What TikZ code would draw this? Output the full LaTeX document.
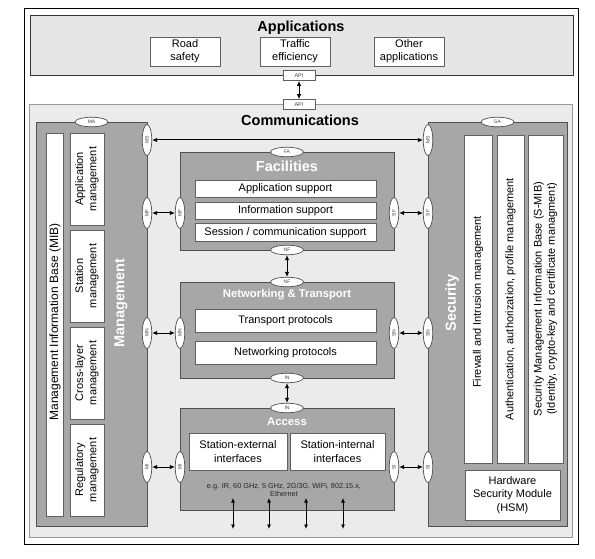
\documentclass[tikz,border=0pt]{standalone}
\usepackage{fontspec}
\setmainfont{Liberation Sans}
\usetikzlibrary{shapes.geometric,arrows.meta}
\definecolor{appfill}{HTML}{E6E6E6}
\definecolor{comfill}{HTML}{EBEBEB}
\definecolor{layfill}{HTML}{A7A7A7}
\definecolor{laystroke}{HTML}{505050}
\definecolor{boxstroke}{HTML}{606060}
\definecolor{elltext}{HTML}{444444}
\begin{document}
\begin{tikzpicture}[x=1pt,y=-1pt,
  area/.style={rectangle,inner sep=0pt},
  layer/.style={area,draw=laystroke,fill=layfill,line width=0.9pt},
  wbox/.style={area,draw=boxstroke,fill=white,line width=0.8pt,align=center,
    font=\fontsize{11}{13.3}\selectfont},
  bigtitle/.style={font=\fontsize{14.5}{16}\selectfont\bfseries,inner sep=0pt},
  wtitle/.style={font=\fontsize{14.5}{16}\selectfont\bfseries,text=white,inner sep=0pt},
  stitle/.style={font=\fontsize{11.3}{13}\selectfont\bfseries,text=white,inner sep=0pt},
  ell/.style={ellipse,draw=laystroke,fill=white,line width=0.7pt,minimum width=33pt,
    minimum height=9.5pt,inner sep=0pt,font=\fontsize{5}{5}\selectfont,text=elltext},
  vell/.style={ell,rotate=90,minimum width=31pt},
  apibox/.style={area,draw=boxstroke,fill=white,line width=0.7pt,minimum width=32pt,
    minimum height=10pt,font=\fontsize{5.5}{6}\selectfont,text=elltext},
  dbl/.style={{Latex[length=5pt,width=4.5pt]}-{Latex[length=5pt,width=4.5pt]},line width=1pt,black},
  sdbl/.style={{Latex[length=4.5pt,width=4pt]}-{Latex[length=4.5pt,width=4pt]},line width=0.8pt,black}
]
\useasboundingbox (0,0) rectangle (595,559);
% outer frame
\node[area,draw=black,fill=white,line width=0.9pt,minimum width=554pt,minimum height=536pt] (frame) at (301,276) {};
% Applications
\node[area,draw=black!80,fill=appfill,line width=0.9pt,minimum width=543pt,minimum height=60pt] (apps) at (301.5,45) {};
\node[bigtitle] (appst) at (301,28) {Applications};
\node[wbox,minimum width=70pt,minimum height=29pt] (road) at (185,51.5) {Road\\safety};
\node[wbox,minimum width=70pt,minimum height=29pt] (traffic) at (295,51.5) {Traffic\\efficiency};
\node[wbox,minimum width=70pt,minimum height=29pt] (other) at (409,51.5) {Other\\applications};
% Communications
\node[area,draw=black!40,fill=comfill,line width=1pt,minimum width=543pt,minimum height=432pt] (comm) at (300.5,321) {};
\node[apibox] (api1) at (299,75.5) {API};
\node[apibox] (api2) at (299,104.5) {API};
\draw[dbl] (api1) -- (api2);
\node[bigtitle] (commt) at (300,120) {Communications};
% Management
\node[layer,minimum width=111pt,minimum height=404pt] (mgmt) at (91.5,324) {};
\node[wbox,minimum width=17pt,minimum height=383pt] (mib) at (54.5,324.5) {};
\node[rotate=90,font=\fontsize{12}{14}\selectfont] (mibt) at (55,322) {Management Information Base (MIB)};
\node[wbox,minimum width=34pt,minimum height=92pt] (appm) at (87,179) {};
\node[wbox,minimum width=34pt,minimum height=92pt] (stam) at (87,276) {};
\node[wbox,minimum width=34pt,minimum height=92pt] (crom) at (87,373) {};
\node[wbox,minimum width=34pt,minimum height=92pt] (regm) at (87,470) {};
\node[rotate=90,align=center,font=\fontsize{11}{13.3}\selectfont] (appmt) at (87,179) {Application\\management};
\node[rotate=90,align=center,font=\fontsize{11}{13.3}\selectfont] (stamt) at (87,276) {Station\\management};
\node[rotate=90,align=center,font=\fontsize{11}{13.3}\selectfont] (cromt) at (87,373) {Cross-layer\\management};
\node[rotate=90,align=center,font=\fontsize{11}{13.3}\selectfont] (regmt) at (87,470) {Regulatory\\management};
\node[wtitle,rotate=90] (mgmtt) at (121,303) {Management};
\node[ell] (ma) at (91.5,122) {MA};
\node[vell] (msl) at (147,140) {MS};
\node[vell] (mfl) at (147,213) {MF};
\node[vell] (mnl) at (147,333) {MN};
\node[vell] (mil) at (147,467) {MI};
% Security
\node[layer,minimum width=139pt,minimum height=404pt] (sec) at (497.5,324) {};
\node[wbox,minimum width=28pt,minimum height=328pt] (fw) at (478,299) {};
\node[wbox,minimum width=27pt,minimum height=328pt] (auth) at (510.5,299) {};
\node[wbox,minimum width=35pt,minimum height=328pt] (smib) at (545.5,299) {};
\node[rotate=90,font=\fontsize{11}{13.3}\selectfont] (fwt) at (478,302) {Firewall and Intrusion management};
\node[rotate=90,font=\fontsize{11}{13.3}\selectfont] (autht) at (510.5,299) {Authentication, authorization, profile management};
\node[rotate=90,align=center,font=\fontsize{11}{13.3}\selectfont] (smibt) at (545.5,299) {Security Management Information Base (S-MIB)\\(Identity, crypto-key and certificate managment)};
\node[wbox,minimum width=95pt,minimum height=50pt] (hsm) at (512.5,495) {Hardware\\Security Module\\(HSM)};
\node[wtitle,rotate=90] (sect) at (452,303) {Security};
\node[ell] (sa) at (497.5,122) {SA};
\node[vell] (msr) at (428,140) {MS};
\node[vell] (sfr) at (428,213) {SF};
\node[vell] (snr) at (428,333) {SN};
\node[vell] (sir) at (428,467) {SI};
% Facilities
\node[layer,minimum width=214pt,minimum height=98pt] (fac) at (287,201) {};
\node[wtitle] (fact) at (287,166) {Facilities};
\node[wbox,minimum width=181pt,minimum height=17.5pt] (appsup) at (285.5,189) {Application support};
\node[wbox,minimum width=181pt,minimum height=17.5pt] (infsup) at (285.5,211) {Information support};
\node[wbox,minimum width=181pt,minimum height=17.5pt] (sessup) at (285.5,232.5) {Session / communication support};
\node[ell] (fa) at (287,152) {FA};
\node[ell] (nf1) at (287,250) {NF};
\node[vell] (mfi) at (180,213) {MF};
\node[vell] (sfi) at (394,213) {SF};
% Networking & Transport
\node[layer,minimum width=214pt,minimum height=96pt] (nt) at (287,330) {};
\node[stitle] (ntt) at (287,295) {Networking \& Transport};
\node[wbox,minimum width=181pt,minimum height=23pt] (tp) at (285.5,321) {Transport protocols};
\node[wbox,minimum width=181pt,minimum height=23pt] (np) at (285.5,353) {Networking protocols};
\node[ell] (nf2) at (287,282) {NF};
\node[ell] (in1) at (287,378) {IN};
\node[vell] (mni) at (180,333) {MN};
\node[vell] (sni) at (394,333) {SN};
% Access
\node[layer,minimum width=214pt,minimum height=102pt] (acc) at (287,459) {};
\node[stitle] (acct) at (287,422) {Access};
\node[wbox,minimum width=98pt,minimum height=37pt] (sext) at (238,451.5) {Station-external\\interfaces};
\node[wbox,minimum width=95pt,minimum height=37pt] (sint) at (337.5,451.5) {Station-internal\\interfaces};
\node[align=center,font=\fontsize{7.3}{8.5}\selectfont,text=black!85,inner sep=0pt] (note) at (284,490) {e.g. IR, 60 GHz, 5 GHz, 2G/3G, WiFi, 802.15.x,\\Ethernet};
\node[ell] (in2) at (287,408) {IN};
\node[vell] (mii) at (180,467) {MI};
\node[vell] (sii) at (394,467) {SI};
% connectors
\draw[dbl] (msl) -- (msr);
\draw[dbl] (mfl) -- (mfi);
\draw[dbl] (mnl) -- (mni);
\draw[dbl] (mil) -- (mii);
\draw[dbl] (sfi) -- (sfr);
\draw[dbl] (sni) -- (snr);
\draw[dbl] (sii) -- (sir);
\draw[dbl] (nf1) -- (nf2);
\draw[dbl] (in1) -- (in2);
\foreach \i/\xx in {1/233,2/269,3/306,4/343}{
  \coordinate (ta\i) at (\xx,498);
  \coordinate (tb\i) at (\xx,529);
  \draw[sdbl] (ta\i) -- (tb\i);
}
\end{tikzpicture}
\end{document}
